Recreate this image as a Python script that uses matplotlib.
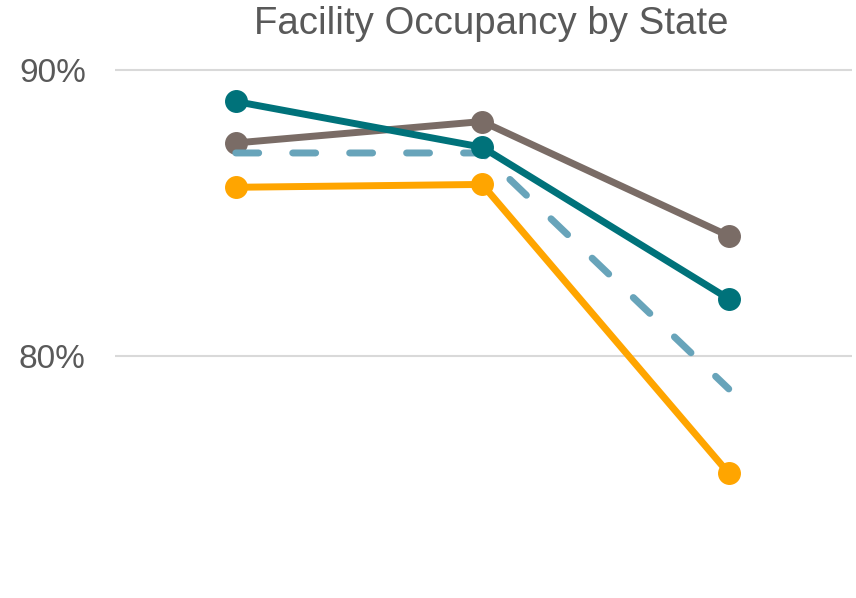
import matplotlib
matplotlib.use("Agg")
import matplotlib.pyplot as plt
from matplotlib.ticker import FuncFormatter

# Dati
categories = [0, 1, 2]
gray_vals = [87.45, 88.2, 84.2]
dashed_vals = [87.1, 87.1, 78.85]
teal_vals = [88.9, 87.3, 82.0]
orange_vals = [85.9, 86.0, 75.9]

fig = plt.figure(figsize=(8.56, 5.98), dpi=100)
ax = fig.add_axes([115 / 856, 0.0, (852 - 115) / 856, (598 - 50) / 598])

lw = 5.0
ms = 15.5
ax.plot(categories, gray_vals, color='#7A6C66', lw=lw, marker='o', ms=ms, zorder=3)
ax.plot(categories, dashed_vals, color='#68A4BA', lw=lw, dashes=(3.3, 4.9), dash_capstyle='round', zorder=4)
ax.plot(categories, teal_vals, color='#00727A', lw=lw, marker='o', ms=ms, zorder=5)
ax.plot(categories, orange_vals, color='#FFA500', lw=lw, marker='o', ms=ms, zorder=6)

ax.set_xlim(-0.49, 2.5)
ax.set_ylim(71.54, 90.7)
ax.set_yticks([80, 90])
ax.yaxis.set_major_formatter(FuncFormatter(lambda v, p: f"{v:.0f}%"))
ax.set_xticks([])
ax.tick_params(axis='y', length=0, pad=21, labelsize=24, labelcolor='#595959')
for lab in ax.get_yticklabels():
    lab.set_fontfamily('Liberation Sans')
ax.grid(axis='y', color='#D9D9D9', lw=1.5)
ax.set_axisbelow(True)
for s in ax.spines.values():
    s.set_visible(False)

fig.text(491 / 856, 1 - 24 / 598, 'Facility Occupancy by State', ha='center', va='center',
         fontsize=27.6, color='#595959', family='Liberation Sans')

fig.savefig('out.png', dpi=100)
